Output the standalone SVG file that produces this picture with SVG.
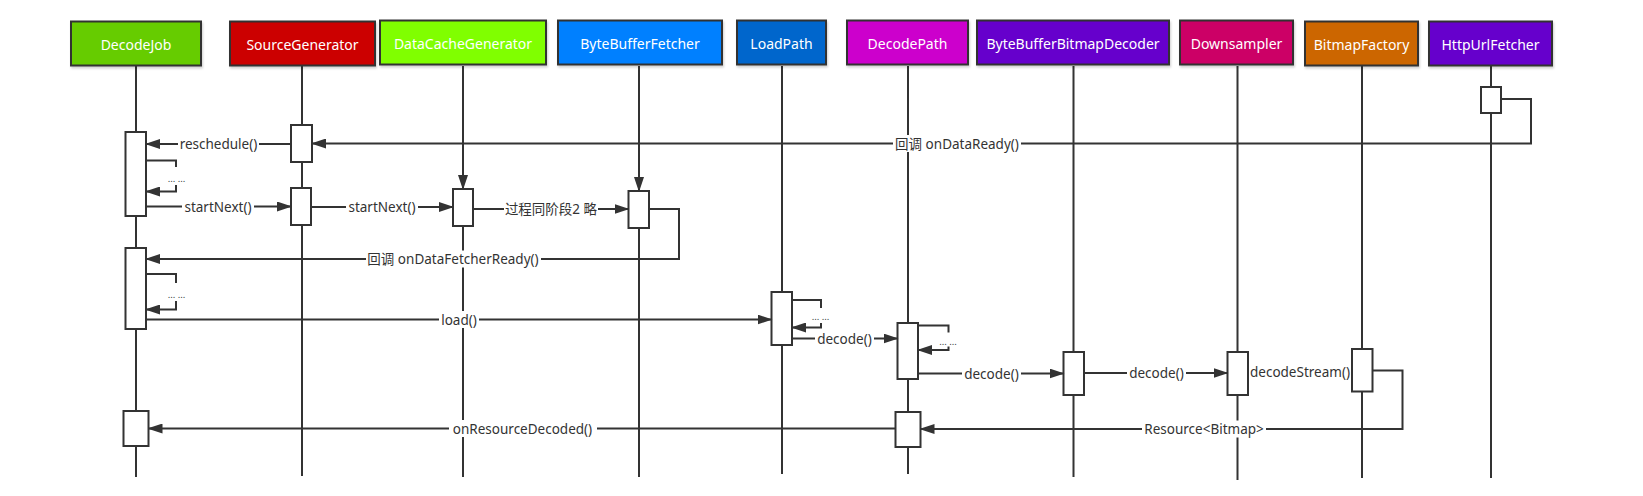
<svg xmlns="http://www.w3.org/2000/svg" width="1643" height="496" viewBox="0 0 1643 496">
<defs>
<marker id="arr" viewBox="0 0 15 10" markerUnits="userSpaceOnUse" markerWidth="15" markerHeight="10" refX="14" refY="5" orient="auto">
<path d="M0,0 L15,5 L0,10 z" fill="#333"/>
</marker>
<filter id="sh" x="-5%" y="-10%" width="115%" height="130%">
<feDropShadow dx="1" dy="2" stdDeviation="1.2" flood-color="#000" flood-opacity="0.18"/>
</filter>
</defs>
<style>
.hd{stroke:#333;stroke-width:2;filter:url(#sh)}
.ht{fill:#fff;font-family:"Noto Sans","Noto Sans CJK SC",sans-serif;font-size:14px;text-anchor:middle;dominant-baseline:central}
.ll{stroke:#333;stroke-width:2;fill:none}
.act{fill:#fff;stroke:#333;stroke-width:2}
.msg{stroke:#333;stroke-width:2;fill:none}
.ar{marker-end:url(#arr)}
.lb{fill:#333;font-family:"Noto Sans","Noto Sans CJK SC",sans-serif;font-size:13.5px;text-anchor:middle;dominant-baseline:central}
.dt{fill:#333;font-family:"Noto Sans",sans-serif;font-size:9.5px;text-anchor:middle;dominant-baseline:central}
.bg{fill:#fff}
</style>
<rect width="1643" height="496" fill="#fff"/>

<g id="DecodeJob">
<line class="ll" x1="136" y1="66" x2="136" y2="477"/>
<rect class="hd" x="71" y="21.5" width="130" height="44" fill="#66cc00"/>
<text class="ht" x="136" y="44">DecodeJob</text>
<rect class="act" x="125.5" y="132" width="20.5" height="84"/>
<rect class="act" x="125.5" y="248" width="20.5" height="81"/>
<rect class="act" x="123.5" y="411" width="25" height="35"/>
</g>

<g id="SourceGenerator">
<line class="ll" x1="302" y1="66" x2="302" y2="476"/>
<rect class="hd" x="230" y="21.5" width="145" height="44" fill="#cc0000"/>
<text class="ht" x="302.5" y="44">SourceGenerator</text>
<rect class="act" x="291" y="125" width="21" height="37"/>
<rect class="act" x="291" y="188" width="20" height="37"/>
</g>

<g id="DataCacheGenerator">
<line class="ll" x1="463" y1="226" x2="463" y2="477"/>
<rect class="hd" x="380" y="20.5" width="166" height="44" fill="#80ff00"/>
<text class="ht" x="463" y="43">DataCacheGenerator</text>
<rect class="act" x="453" y="189" width="20" height="37"/>
</g>

<g id="ByteBufferFetcher">
<line class="ll" x1="639" y1="228" x2="639" y2="477"/>
<rect class="hd" x="558" y="20.5" width="164" height="44" fill="#0080ff"/>
<text class="ht" x="640" y="43">ByteBufferFetcher</text>
<rect class="act" x="628.5" y="191" width="20.5" height="37"/>
</g>

<g id="LoadPath">
<line class="ll" x1="782" y1="66" x2="782" y2="474"/>
<rect class="hd" x="737" y="20.5" width="89" height="44" fill="#0066cc"/>
<text class="ht" x="781.5" y="43">LoadPath</text>
<rect class="act" x="771.5" y="292" width="20.5" height="53"/>
</g>

<g id="DecodePath">
<line class="ll" x1="908" y1="66" x2="908" y2="474"/>
<rect class="hd" x="847" y="20.5" width="121" height="44" fill="#cc00cc"/>
<text class="ht" x="907.5" y="43">DecodePath</text>
<rect class="act" x="897.5" y="323" width="20.5" height="56"/>
<rect class="act" x="895.5" y="412" width="25" height="35"/>
</g>

<g id="ByteBufferBitmapDecoder">
<line class="ll" x1="1073.5" y1="66" x2="1073.5" y2="477"/>
<rect class="hd" x="977" y="20.5" width="192" height="44" fill="#6600cc"/>
<text class="ht" x="1073" y="43">ByteBufferBitmapDecoder</text>
<rect class="act" x="1063.5" y="352" width="20.5" height="43"/>
</g>

<g id="Downsampler">
<line class="ll" x1="1237.5" y1="66" x2="1237.5" y2="480"/>
<rect class="hd" x="1180" y="20.5" width="113" height="44" fill="#cc0066"/>
<text class="ht" x="1236.5" y="43">Downsampler</text>
<rect class="act" x="1227.5" y="352" width="20.5" height="43"/>
</g>

<g id="BitmapFactory">
<line class="ll" x1="1362" y1="66" x2="1362" y2="478"/>
<rect class="hd" x="1305" y="21.5" width="113" height="44" fill="#cc6600"/>
<text class="ht" x="1361.5" y="44">BitmapFactory</text>
<rect class="act" x="1352" y="349" width="20.5" height="42.5"/>
</g>

<g id="HttpUrlFetcher">
<line class="ll" x1="1491" y1="66" x2="1491" y2="478"/>
<rect class="hd" x="1429" y="21.5" width="123" height="44" fill="#6600cc"/>
<text class="ht" x="1490.5" y="44">HttpUrlFetcher</text>
<rect class="act" x="1481" y="87" width="20" height="26"/>
</g>

<g id="connectors">
<path class="msg ar" d="M463,66 V189"/>
<path class="msg ar" d="M639,66 V191"/>

<path class="msg ar" d="M1501,99 H1531 V143.5 H312"/>
<rect class="bg" x="893" y="135" width="128" height="17"/>
<text class="lb" x="957" y="143.5">回调 onDataReady()</text>

<path class="msg ar" d="M291,144 H146"/>
<rect class="bg" x="178" y="135" width="81" height="17"/>
<text class="lb" x="218.5" y="144">reschedule()</text>

<path class="msg ar" d="M146,160.5 H176 V191.5 H146"/>
<rect class="bg" x="165" y="167" width="23" height="18"/>
<text class="dt" x="176.5" y="178.5">... ...</text>

<path class="msg ar" d="M146,206.5 H291"/>
<rect class="bg" x="182" y="198" width="72" height="17"/>
<text class="lb" x="218" y="206.5">startNext()</text>

<path class="msg ar" d="M312,207 H453"/>
<rect class="bg" x="346" y="198.5" width="72" height="17"/>
<text class="lb" x="382" y="207">startNext()</text>

<path class="msg ar" d="M473,209 H628.5"/>
<rect class="bg" x="504" y="200.5" width="94" height="17"/>
<text class="lb" x="551" y="209">过程同阶段2 略</text>

<path class="msg ar" d="M649,209 H679 V259 H146"/>
<rect class="bg" x="366" y="250.5" width="175" height="17"/>
<text class="lb" x="453" y="259">回调 onDataFetcherReady()</text>

<path class="msg ar" d="M146,274 H176 V309.5 H146"/>
<rect class="bg" x="165" y="283" width="23" height="18"/>
<text class="dt" x="176.5" y="294">... ...</text>

<path class="msg ar" d="M146,319.5 H771.5"/>
<rect class="bg" x="439" y="311" width="40" height="17"/>
<text class="lb" x="459" y="319.5">load()</text>

<path class="msg ar" d="M792,300 H821 V327.5 H792"/>
<rect class="bg" x="809" y="308" width="23" height="15"/>
<text class="dt" x="820.5" y="316.5">... ...</text>

<path class="msg ar" d="M792,338.5 H897.5"/>
<rect class="bg" x="815" y="330" width="59" height="17"/>
<text class="lb" x="844.5" y="338.5">decode()</text>

<path class="msg ar" d="M918,325.5 H948.5 V350 H918"/>
<rect class="bg" x="936" y="332.5" width="24" height="14"/>
<text class="dt" x="948" y="341">... ...</text>

<path class="msg ar" d="M918,373.5 H1063.5"/>
<rect class="bg" x="962" y="365" width="59" height="17"/>
<text class="lb" x="991.5" y="373.5">decode()</text>

<path class="msg ar" d="M1084,373 H1227.5"/>
<rect class="bg" x="1127" y="364.5" width="59" height="17"/>
<text class="lb" x="1156.5" y="373">decode()</text>

<text class="lb" x="1300" y="372">decodeStream()</text>

<path class="msg ar" d="M1372.5,370.5 H1402.5 V429 H920.5"/>
<rect class="bg" x="1142" y="420.5" width="124" height="17"/>
<text class="lb" x="1204" y="429">Resource&lt;Bitmap&gt;</text>

<path class="msg ar" d="M895.5,428.5 H148.5" stroke="#444"/>
<rect class="bg" x="449" y="420" width="148" height="17"/>
<text class="lb" x="522.5" y="428.5">onResourceDecoded()</text>
</g>
</svg>
